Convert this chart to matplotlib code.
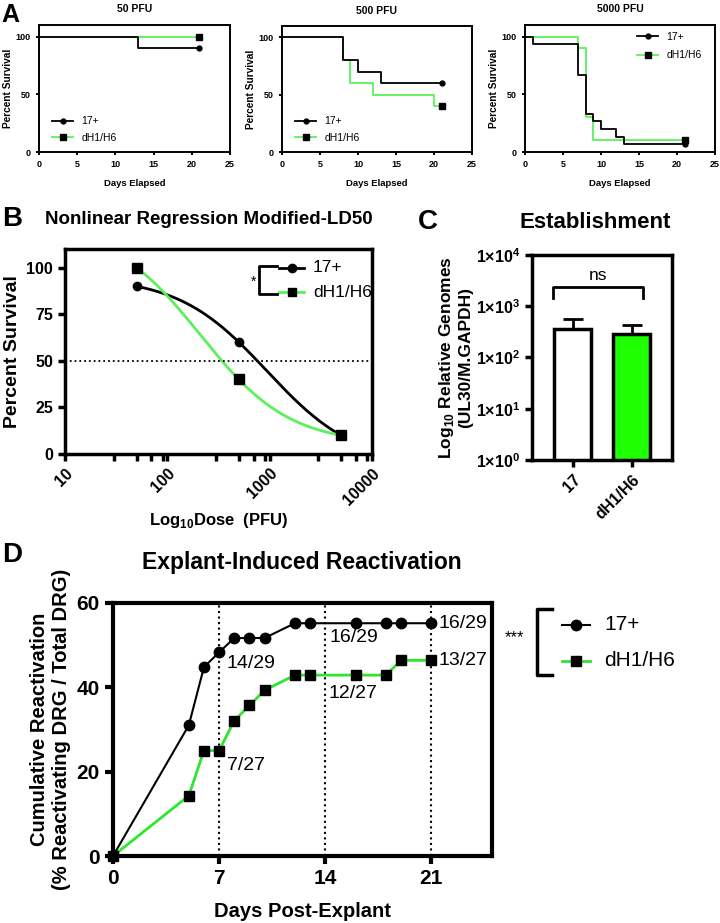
import numpy as np
import matplotlib
matplotlib.use("Agg")
import matplotlib.pyplot as plt
from matplotlib.lines import Line2D
from matplotlib.ticker import FixedLocator, NullFormatter

plt.rcParams['font.family'] = ['Liberation Sans', 'DejaVu Sans']
plt.rcParams['mathtext.fontset'] = 'custom'
plt.rcParams['mathtext.rm'] = 'Liberation Sans'
plt.rcParams['mathtext.bf'] = 'Liberation Sans:bold'

GREEN = '#5cf05c'
GREEN_D = '#2ee62e'
BAR_GREEN = '#1eff00'

# ---- data ----
# panel A: Kaplan-Meier survival (day, percent)
doses_A = ['50 PFU', '500 PFU', '5000 PFU']
days_17 = [[0, 13, 21], [0, 8, 10, 13, 21], [0, 1, 7, 8, 9, 10, 12, 13, 21]]
surv_17 = [[100, 90, 90], [100, 80, 70, 60, 60],
           [100, 93.3, 66.7, 33.3, 26.7, 20, 13.3, 6.7, 6.7]]
days_dh = [[0, 21], [0, 8, 9, 12, 20, 21], [0, 7, 8, 9, 21]]
surv_dh = [[100, 100], [100, 80, 60, 50, 40, 40], [100, 90, 30, 10, 10]]

# panel B: LD50
dose_B = [50, 500, 5000]
pct_17 = [90, 60, 10]
pct_dh = [100, 40, 10]

# panel C: establishment
groups_C = ['17', 'dH1/H6']
genomes = [360, 291]
genomes_err = [196, 146]

# panel D: explant reactivation
d_days_17 = [0, 5, 6, 7, 8, 9, 10, 12, 13, 16, 18, 19, 21]
d_val_17 = [0, 31.0, 44.8, 48.3, 51.7, 51.7, 51.7, 55.2, 55.2, 55.2, 55.2, 55.2, 55.2]
d_days_dh = [0, 5, 6, 7, 8, 9, 10, 12, 13, 16, 18, 19, 21]
d_val_dh = [0, 14.3, 25.0, 25.0, 32.1, 35.7, 39.3, 42.9, 42.9, 42.9, 42.9, 46.4, 46.4]
d_note_x = [7, 7, 14, 14, 21, 21]
d_note_y = [48.3, 25.0, 55.2, 42.9, 55.2, 46.4]
d_note_txt = ['14/29', '7/27', '16/29', '12/27', '16/29', '13/27']
d_note_off = [(5, -8), (6, -11), (3, -10), (2, -13), (5, 0), (5, 0)]  # points

W, H = 720, 923
fig = plt.figure(figsize=(W / 100, H / 100), dpi=100)


def rect(l, t, r, b):
    return [l / W, 1 - b / H, (r - l) / W, (b - t) / H]


def fx(px):
    return px / W


def fy(py):
    return 1 - py / H


def style(ax, lw, fs, tl):
    for s in ax.spines.values():
        s.set_linewidth(lw)
    ax.tick_params(width=lw, length=tl, labelsize=fs, direction='out')
    for t in ax.get_xticklabels() + ax.get_yticklabels():
        t.set_fontweight('bold')


# ---------- panel A ----------
a_rects = [(39, 25, 230, 152), (282, 26, 472, 152), (525, 25, 715, 152)]
for i, r in enumerate(a_rects):
    ax = fig.add_axes(rect(*r))
    ax.step(days_dh[i], surv_dh[i], where='post', color=GREEN, lw=1.3,
            marker='s', ms=4, mfc='k', mec='k', markevery=[-1], label='dH1/H6')
    ax.step(days_17[i], surv_17[i], where='post', color='k', lw=1.3,
            marker='o', ms=3.5, markevery=[-1], label='17+')
    ax.set_xlim(0, 25)
    ax.set_ylim(0, 110)
    ax.set_xticks([0, 5, 10, 15, 20, 25])
    ax.set_yticks([0, 50, 100])
    style(ax, 1.4, 6.5, 2.5)
    ax.set_title(doses_A[i], fontsize=7.5, fontweight='bold', pad=9)
    ax.set_xlabel('Days Elapsed', fontsize=6.8, fontweight='bold', labelpad=7)
    ax.set_ylabel('Percent Survival', fontsize=7.3, fontweight='bold', labelpad=2)
    h, l = ax.get_legend_handles_labels()
    if i < 2:
        ax.legend(h[::-1], l[::-1], loc='lower left', frameon=False, fontsize=7.5,
                  handlelength=2, bbox_to_anchor=(0.02, 0.0), labelspacing=0.6)
    else:
        ax.legend(h[::-1], l[::-1], loc='upper right', frameon=False, fontsize=7.5,
                  handlelength=2, bbox_to_anchor=(0.98, 1.02), labelspacing=0.8)
fig.text(fx(1), fy(15), 'A', fontsize=18, fontweight='bold', va='center')


# ---------- panel B ----------
def fit_logistic(x, y):
    # log(dose) vs response, standard Hill slope, free top / bottom / EC50
    lx = np.log10(np.asarray(x, float))
    y = np.asarray(y, float)
    cs = np.linspace(1.0, 5.0, 4001)[:, None]
    s = 1 / (1 + 10 ** (lx[None, :] - cs))
    u = 1 - s
    a11 = (u * u).sum(-1)
    a12 = (u * s).sum(-1)
    a22 = (s * s).sum(-1)
    r1 = (u * y).sum(-1)
    r2 = (s * y).sum(-1)
    det = a11 * a22 - a12 ** 2
    b = (a22 * r1 - a12 * r2) / det
    t = (a11 * r2 - a12 * r1) / det
    pred = b[:, None] * u + t[:, None] * s
    cost = ((pred - y) ** 2).sum(-1)
    i = np.argmin(cost)
    xx = np.linspace(lx.min(), lx.max(), 200)
    ss = 1 / (1 + 10 ** (xx - cs[i, 0]))
    return 10 ** xx, b[i] * (1 - ss) + t[i] * ss


axB = fig.add_axes(rect(65, 249, 372, 454))
xb, yb = fit_logistic(dose_B, pct_17)
axB.plot(xb, yb, color='k', lw=2)
xg, yg = fit_logistic(dose_B, pct_dh)
axB.plot(xg, yg, color=GREEN, lw=2)
axB.plot(dose_B, pct_17, 'o', color='k', ms=6)
axB.plot(dose_B, pct_dh, 's', color='k', ms=6.5)
axB.axhline(50, color='k', ls=':', lw=1.3)
axB.set_xscale('log')
axB.set_xlim(10, 10000)
axB.set_ylim(0, 110)
axB.set_xticks([10, 100, 1000, 10000])
axB.set_xticklabels(['10', '100', '1000', '10000'], rotation=45, ha='right',
                    rotation_mode='anchor')
axB.xaxis.set_minor_locator(FixedLocator([30, 50, 70, 90, 300, 500, 700, 900,
                                          3000, 5000, 7000, 9000]))
axB.xaxis.set_minor_formatter(NullFormatter())
axB.set_yticks([0, 25, 50, 75, 100])
style(axB, 2.5, 11.5, 5)
axB.tick_params(which='minor', width=2.5, length=5)
axB.set_ylabel('Percent Survival', fontsize=14, fontweight='bold', labelpad=4)
axB.set_xlabel(r'Log$_{\mathbf{10}}$Dose  (PFU)', fontsize=12, fontweight='bold',
               labelpad=2)
fig.text(fx(2), fy(219), 'B', fontsize=20, fontweight='bold', va='center')
fig.text(fx(45), fy(220), 'Nonlinear Regression Modified-LD50', fontsize=13.5,
         fontweight='bold', va='center')
# legend with bracket
for yy, mk, col, lab in [(268, 'o', 'k', '17+'), (292, 's', GREEN, 'dH1/H6')]:
    fig.add_artist(Line2D([fx(279), fx(304)], [fy(yy)] * 2, color=col, lw=2))
    fig.add_artist(Line2D([fx(291.5)], [fy(yy)], marker=mk, color='k', ms=6, ls='none'))
    fig.text(fx(313), fy(yy), lab, fontsize=12.5, va='center')
fig.add_artist(Line2D([fx(277), fx(259), fx(259), fx(277)],
                      [fy(266), fy(266), fy(294), fy(294)], color='k', lw=2))
fig.text(fx(254), fy(282), '*', fontsize=10, ha='center', va='center')

# ---------- panel C ----------
axC = fig.add_axes(rect(532, 255, 672, 460))
xc = np.arange(len(groups_C))
axC.bar(xc, genomes, width=0.63, color=['white', BAR_GREEN], edgecolor='k',
        lw=2.5, zorder=2)
axC.errorbar(xc, genomes, yerr=[[0, 0], genomes_err], fmt='none', ecolor='k',
             elinewidth=2, capsize=7, capthick=2, zorder=1)
axC.set_yscale('log')
axC.set_ylim(1, 1e4)
axC.set_xlim(-0.69, 1.68)
axC.set_yticks([1, 10, 100, 1000, 10000])
axC.set_yticklabels([r'$\mathbf{1{\times}10^{%d}}$' % k for k in range(5)])
axC.minorticks_off()
axC.set_xticks(xc)
axC.set_xticklabels(groups_C, rotation=45, ha='right', rotation_mode='anchor')
style(axC, 2.5, 11.5, 5)
axC.plot([-0.34, -0.34, 1.19, 1.19], [1468, 2378, 2378, 1468], color='k', lw=2)
axC.text(0.43, 3900, 'ns', fontsize=12.5, ha='center', va='center')
axC.set_ylabel('Log$_{\\mathbf{10}}$ Relative Genomes\n(UL30/M.GAPDH)',
               fontsize=12.5, fontweight='bold', labelpad=2)
fig.text(fx(418), fy(222), 'C', fontsize=20, fontweight='bold', va='center')
fig.text(fx(595), fy(222), 'Establishment', fontsize=16, fontweight='bold',
         ha='center', va='center')

# ---------- panel D ----------
axD = fig.add_axes(rect(113, 603, 492, 856))
for xv in [7, 14, 21]:
    axD.axvline(xv, color='k', ls=':', lw=1.5, zorder=1)
axD.plot(d_days_dh, d_val_dh, color=GREEN_D, lw=2, marker='s', ms=7.5, mfc='k',
         mec='k', zorder=3, clip_on=False)
axD.plot(d_days_17, d_val_17, color='k', lw=1.5, marker='o', ms=7.5, zorder=4,
         clip_on=False)
for xv, yv, txt, off in zip(d_note_x, d_note_y, d_note_txt, d_note_off):
    axD.annotate(txt, (xv, yv), xytext=off, textcoords='offset points',
                 fontsize=14, va='center', ha='left')
axD.set_xlim(0, 25)
axD.set_ylim(0, 60)
axD.set_xticks([0, 7, 14, 21])
axD.set_yticks([0, 20, 40, 60])
style(axD, 3, 15, 6)
axD.set_xlabel('Days Post-Explant', fontsize=14.5, fontweight='bold', labelpad=10)
axD.set_ylabel('Cumulative Reactivation\n(% Reactivating DRG / Total DRG)',
               fontsize=14.5, fontweight='bold', labelpad=4)
fig.text(fx(2), fy(555), 'D', fontsize=20, fontweight='bold', va='center')
fig.text(fx(302), fy(563), 'Explant-Induced Reactivation', fontsize=16.5,
         fontweight='bold', ha='center', va='center')
for yy, mk, col, lab, lw in [(625, 'o', 'k', '17+', 1.5), (661, 's', GREEN_D, 'dH1/H6', 2)]:
    fig.add_artist(Line2D([fx(562), fx(590)], [fy(yy)] * 2, color=col, lw=lw))
    fig.add_artist(Line2D([fx(576)], [fy(yy)], marker=mk, color='k', ms=7.5, ls='none'))
    fig.text(fx(604), fy(yy), lab, fontsize=15, va='center')
fig.add_artist(Line2D([fx(552), fx(537), fx(537), fx(552)],
                      [fy(609), fy(609), fy(675), fy(675)], color='k', lw=2.5))
fig.text(fx(514), fy(638), '***', fontsize=12, ha='center', va='center')

fig.savefig('out.png', dpi=100)
